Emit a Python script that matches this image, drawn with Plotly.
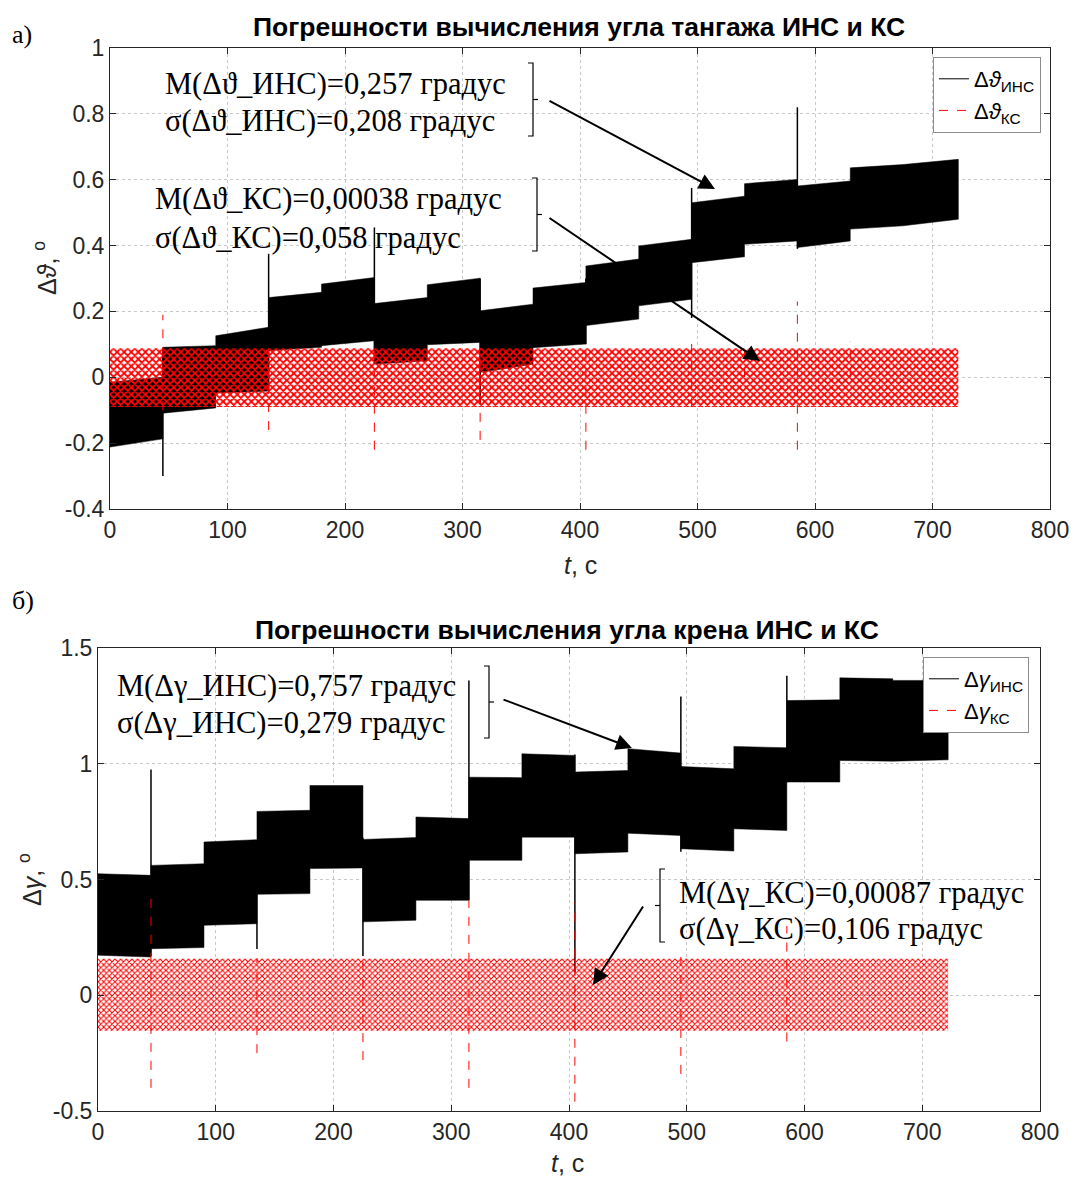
import plotly.graph_objects as go

PAGE_W, PAGE_H = 1074, 1177
OFF = 0  # body margin removed by post_script
W, H = PAGE_W - OFF, PAGE_H - OFF

# ---------------- DATA ----------------
seg_edges = [0, 45, 90, 135, 180, 225, 270, 315, 360, 405, 450, 495, 540, 585, 630, 675, 722]

# Pitch (тангаж) INS error band: per-segment envelope (start/end of each segment)
pitch_ins_top_s = [-0.015, 0.091, 0.126, 0.242, 0.283, 0.224, 0.281, 0.202, 0.271, 0.338, 0.399, 0.530, 0.588, 0.581, 0.636, 0.646]
pitch_ins_top_e = [0.000, 0.096, 0.152, 0.258, 0.303, 0.242, 0.301, 0.222, 0.288, 0.359, 0.419, 0.550, 0.601, 0.596, 0.646, 0.662]
pitch_ins_bot_s = [-0.212, -0.109, -0.048, 0.081, 0.096, 0.040, 0.099, 0.015, 0.090, 0.157, 0.217, 0.348, 0.404, 0.394, 0.450, 0.460]
pitch_ins_bot_e = [-0.187, -0.093, -0.042, 0.091, 0.111, 0.050, 0.106, 0.040, 0.101, 0.177, 0.237, 0.366, 0.414, 0.414, 0.460, 0.480]
pitch_ins_spike_t = [45, 135, 225, 315, 405, 495, 585]
pitch_ins_spike_lo = [-0.30, -0.04, 0.04, -0.08, 0.10, 0.18, 0.39]
pitch_ins_spike_hi = [0.09, 0.375, 0.455, 0.30, 0.30, 0.575, 0.82]

# Pitch KS error band and spikes
ks_t = [0, 722]
pitch_ks_hi = [0.088, 0.088]
pitch_ks_lo = [-0.090, -0.090]
pitch_ks_spike_t = [45, 135, 225, 315, 405, 495, 540, 585, 630]
pitch_ks_spike_lo = [-0.10, -0.16, -0.22, -0.19, -0.22, -0.09, 0.0, -0.22, 0.0]
pitch_ks_spike_hi = [0.19, 0.09, 0.09, 0.09, 0.09, 0.12, 0.11, 0.23, 0.11]

# Roll (крен) INS error band
roll_ins_top_s = [0.525, 0.561, 0.662, 0.794, 0.906, 0.673, 0.770, 0.942, 1.043, 0.964, 1.065, 0.988, 1.075, 1.273, 1.371, 1.360]
roll_ins_top_e = [0.518, 0.568, 0.672, 0.799, 0.906, 0.681, 0.763, 0.940, 1.036, 0.971, 1.046, 0.978, 1.069, 1.276, 1.367, 1.360]
roll_ins_bot_s = [0.173, 0.201, 0.302, 0.436, 0.547, 0.317, 0.410, 0.583, 0.683, 0.611, 0.700, 0.633, 0.719, 0.921, 1.014, 1.014]
roll_ins_bot_e = [0.165, 0.206, 0.309, 0.439, 0.550, 0.324, 0.410, 0.583, 0.683, 0.619, 0.690, 0.623, 0.712, 0.921, 1.011, 1.017]
roll_ins_spike_t = [45, 135, 225, 315, 405, 495, 585]
roll_ins_spike_lo = [0.17, 0.20, 0.17, 0.41, 0.10, 0.62, 0.92]
roll_ins_spike_hi = [0.975, 0.66, 0.68, 1.36, 1.04, 1.29, 1.38]

# Roll KS error band and spikes
roll_ks_hi = [0.158, 0.158]
roll_ks_lo = [-0.154, -0.154]
roll_ks_spike_t = [45, 135, 225, 315, 405, 495, 585]
roll_ks_spike_lo = [-0.40, -0.25, -0.28, -0.40, -0.46, -0.34, -0.20]
roll_ks_spike_hi = [0.42, 0.16, 0.18, 0.41, 0.40, 0.20, 0.30]

x_ticks = [0, 100, 200, 300, 400, 500, 600, 700, 800]
x_ticktext = ["0", "100", "200", "300", "400", "500", "600", "700", "800"]
y1_ticks = [-0.4, -0.2, 0, 0.2, 0.4, 0.6, 0.8, 1.0]
y1_ticktext = ["-0.4", "-0.2", "0", "0.2", "0.4", "0.6", "0.8", "1"]
y2_ticks = [-0.5, 0, 0.5, 1.0, 1.5]
y2_ticktext = ["-0.5", "0", "0.5", "1", "1.5"]

title1 = "Погрешности вычисления угла тангажа ИНС и КС"
title2 = "Погрешности вычисления угла крена ИНС и КС"
ann_pitch_ins = ["M(Δϑ_ИНС)=0,257 градус", "σ(Δϑ_ИНС)=0,208 градус"]
ann_pitch_ks = ["M(Δϑ_КС)=0,00038 градус", "σ(Δϑ_КС)=0,058 градус"]
ann_roll_ins = ["M(Δγ_ИНС)=0,757 градус", "σ(Δγ_ИНС)=0,279 градус"]
ann_roll_ks = ["M(Δγ_КС)=0,00087 градус", "σ(Δγ_КС)=0,106 градус"]


# ---------------- HELPERS ----------------
def X(px):
    return (px - OFF) / W


def Y(py):
    return 1 - (py - OFF) / H


def band(edges, ts, te, bs, be):
    xs, ys = [], []
    for i in range(len(ts)):
        xs += [edges[i], edges[i + 1]]
        ys += [ts[i], te[i]]
    for i in reversed(range(len(ts))):
        xs += [edges[i + 1], edges[i]]
        ys += [be[i], bs[i]]
    xs.append(xs[0])
    ys.append(ys[0])
    return xs, ys


def simple_band(t, hi, lo):
    xs = list(t) + list(reversed(t)) + [t[0]]
    ys = list(hi) + list(reversed(lo)) + [hi[0]]
    return xs, ys


def spikes(ts, lo, hi):
    xs, ys = [], []
    for t, a, b in zip(ts, lo, hi):
        xs += [t, t, None]
        ys += [a, b, None]
    return xs, ys


fig = go.Figure()

SANS = "Liberation Sans, Arial, sans-serif"
SERIF = "Liberation Serif, Times New Roman, serif"

# ---- Top subplot ----
bx, by = band(seg_edges, pitch_ins_top_s, pitch_ins_top_e, pitch_ins_bot_s, pitch_ins_bot_e)
fig.add_trace(go.Scatter(x=bx, y=by, fill="toself", fillcolor="black", mode="lines",
                         line=dict(color="black", width=0.5), showlegend=False, xaxis="x", yaxis="y",
                         hoverinfo="skip"))
sx, sy = spikes(pitch_ins_spike_t, pitch_ins_spike_lo, pitch_ins_spike_hi)
fig.add_trace(go.Scatter(x=sx, y=sy, mode="lines", line=dict(color="black", width=1.5),
                         showlegend=False, xaxis="x", yaxis="y"))
kx, ky = simple_band(ks_t, pitch_ks_hi, pitch_ks_lo)
fig.add_trace(go.Scatter(x=kx, y=ky, fill="toself", mode="lines", line=dict(width=0, color="red"),
                         fillcolor="rgba(0,0,0,0)",
                         fillpattern=dict(shape="x", fgcolor="red", bgcolor="rgba(0,0,0,0)",
                                          size=5, solidity=0.6),
                         showlegend=False, xaxis="x", yaxis="y", hoverinfo="skip"))
sx, sy = spikes(pitch_ks_spike_t, pitch_ks_spike_lo, pitch_ks_spike_hi)
fig.add_trace(go.Scatter(x=sx, y=sy, mode="lines", line=dict(color="red", width=1, dash="dash"),
                         showlegend=False, xaxis="x", yaxis="y"))
fig.add_trace(go.Scatter(x=[None], y=[None], mode="lines", line=dict(color="black", width=1),
                         name="Δ<i>ϑ</i><sub>ИНС</sub>", xaxis="x", yaxis="y", legend="legend"))
fig.add_trace(go.Scatter(x=[None], y=[None], mode="lines", line=dict(color="red", width=1, dash="dash"),
                         name="Δ<i>ϑ</i><sub>КС</sub>", xaxis="x", yaxis="y", legend="legend"))

# ---- Bottom subplot ----
bx, by = band(seg_edges, roll_ins_top_s, roll_ins_top_e, roll_ins_bot_s, roll_ins_bot_e)
fig.add_trace(go.Scatter(x=bx, y=by, fill="toself", fillcolor="black", mode="lines",
                         line=dict(color="black", width=0.5), showlegend=False, xaxis="x2", yaxis="y2",
                         hoverinfo="skip"))
sx, sy = spikes(roll_ins_spike_t, roll_ins_spike_lo, roll_ins_spike_hi)
fig.add_trace(go.Scatter(x=sx, y=sy, mode="lines", line=dict(color="black", width=1.5),
                         showlegend=False, xaxis="x2", yaxis="y2"))
kx, ky = simple_band(ks_t, roll_ks_hi, roll_ks_lo)
fig.add_trace(go.Scatter(x=kx, y=ky, fill="toself", mode="lines", line=dict(width=0, color="red"),
                         fillcolor="rgba(0,0,0,0)",
                         fillpattern=dict(shape="x", fgcolor="red", bgcolor="rgba(0,0,0,0)",
                                          size=4, solidity=0.45),
                         showlegend=False, xaxis="x2", yaxis="y2", hoverinfo="skip"))
sx, sy = spikes(roll_ks_spike_t, roll_ks_spike_lo, roll_ks_spike_hi)
fig.add_trace(go.Scatter(x=sx, y=sy, mode="lines", line=dict(color="red", width=1, dash="dash"),
                         showlegend=False, xaxis="x2", yaxis="y2"))
fig.add_trace(go.Scatter(x=[None], y=[None], mode="lines", line=dict(color="black", width=1),
                         name="Δ<i>γ</i><sub>ИНС</sub>", xaxis="x2", yaxis="y2", legend="legend2"))
fig.add_trace(go.Scatter(x=[None], y=[None], mode="lines", line=dict(color="red", width=1, dash="dash"),
                         name="Δ<i>γ</i><sub>КС</sub>", xaxis="x2", yaxis="y2", legend="legend2"))

axis_common = dict(showline=True, linecolor="#262626", linewidth=1, mirror="ticks",
                   ticks="inside", ticklen=6, tickcolor="#262626", automargin=False,
                   showgrid=True, gridcolor="#c8c8c8", griddash="dot", gridwidth=1,
                   zeroline=False, tickfont=dict(family=SANS, size=23, color="#262626"))

fig.update_layout(
    template="none",
    width=W, height=H, margin=dict(l=0, r=0, t=0, b=0, autoexpand=False),
    paper_bgcolor="white", plot_bgcolor="white",
    xaxis=dict(domain=[X(110), X(1050)], range=[0, 800], anchor="y",
               tickvals=x_ticks, ticktext=x_ticktext, **axis_common),
    yaxis=dict(domain=[Y(509), Y(48)], range=[-0.4, 1.0], anchor="x",
               tickvals=y1_ticks, ticktext=y1_ticktext, **axis_common),
    xaxis2=dict(domain=[X(98), X(1040)], range=[0, 800], anchor="y2",
                tickvals=x_ticks, ticktext=x_ticktext, **axis_common),
    yaxis2=dict(domain=[Y(1111), Y(648)], range=[-0.5, 1.5], anchor="x2",
                tickvals=y2_ticks, ticktext=y2_ticktext, **axis_common),
    legend=dict(x=X(933), y=Y(57), xanchor="left", yanchor="top", bgcolor="white",
                bordercolor="#8c8c8c", borderwidth=1, font=dict(family=SANS, size=22, color="black"),
                itemwidth=30, tracegroupgap=0),
    legend2=dict(x=X(923), y=Y(657), xanchor="left", yanchor="top", bgcolor="white",
                 bordercolor="#8c8c8c", borderwidth=1, font=dict(family=SANS, size=22, color="black"),
                 itemwidth=30, tracegroupgap=0),
)

annotations = []


def txt(text, px, py, size, family, xanchor="left", bold=False, angle=0, color="black"):
    annotations.append(dict(text=("<b>%s</b>" % text) if bold else text, x=X(px), y=Y(py),
                            xref="paper", yref="paper", xanchor=xanchor, yanchor="middle",
                            showarrow=False, textangle=angle,
                            font=dict(family=family, size=size, color=color)))


txt(title1, 579, 27, 26.5, SANS, xanchor="center", bold=True)
txt(title2, 567, 630, 26.5, SANS, xanchor="center", bold=True)
txt("а)", 10, 35, 26, SERIF)
txt("б)", 10, 600, 26, SERIF)
txt("<i>t</i>, с", 580, 565, 25, SANS, xanchor="center", color="#262626")
txt("<i>t</i>, с", 567, 1163, 25, SANS, xanchor="center", color="#262626")
txt("Δ<i>ϑ</i>, <sup>o</sup>", 45, 268, 25, SANS, xanchor="center", angle=-90, color="#262626")
txt("Δ<i>γ</i>, <sup>o</sup>", 30, 879, 25, SANS, xanchor="center", angle=-90, color="#262626")

AS = 30.5
txt(ann_pitch_ins[0], 163, 84, AS, SERIF)
txt(ann_pitch_ins[1], 163, 121, AS, SERIF)
txt(ann_pitch_ks[0], 153, 199, AS, SERIF)
txt(ann_pitch_ks[1], 153, 238, AS, SERIF)
txt(ann_roll_ins[0], 115, 686, AS, SERIF)
txt(ann_roll_ins[1], 115, 723, AS, SERIF)
txt(ann_roll_ks[0], 677, 893, AS, SERIF)
txt(ann_roll_ks[1], 677, 929, AS, SERIF)


def arrow(tail, head):
    annotations.append(dict(text="", x=X(head[0]), y=Y(head[1]), xref="paper", yref="paper",
                            ax=tail[0] - head[0], ay=tail[1] - head[1], axref="pixel", ayref="pixel",
                            showarrow=True, arrowhead=2, arrowsize=1.6, arrowwidth=2,
                            arrowcolor="black", standoff=0))


arrow((548, 100), (715, 189))
arrow((548, 217), (760, 361))
arrow((502, 699), (632, 748))
arrow((644, 905), (593, 985))

fig.update_layout(annotations=annotations)

shapes = []


def bracket(xv, y0, y1, serif_dir, tick_dir):
    s = 5
    path = "M %f %f L %f %f L %f %f L %f %f" % (
        X(xv + serif_dir * s), Y(y0), X(xv), Y(y0), X(xv), Y(y1), X(xv + serif_dir * s), Y(y1))
    shapes.append(dict(type="path", path=path, xref="paper", yref="paper",
                       line=dict(color="black", width=1.2)))
    ym = (y0 + y1) / 2
    shapes.append(dict(type="line", x0=X(xv), x1=X(xv + tick_dir * s), y0=Y(ym), y1=Y(ym),
                       xref="paper", yref="paper", line=dict(color="black", width=1.2)))


bracket(533, 63, 136, -1, 1)
bracket(537, 178, 251, -1, 1)
bracket(489, 666, 738, -1, 1)
bracket(660, 869, 942, 1, -1)

fig.update_layout(shapes=shapes)

fig.write_html("out.html", config={"displayModeBar": False},
               post_script="document.body.style.margin='0';document.body.style.overflow='hidden';")
